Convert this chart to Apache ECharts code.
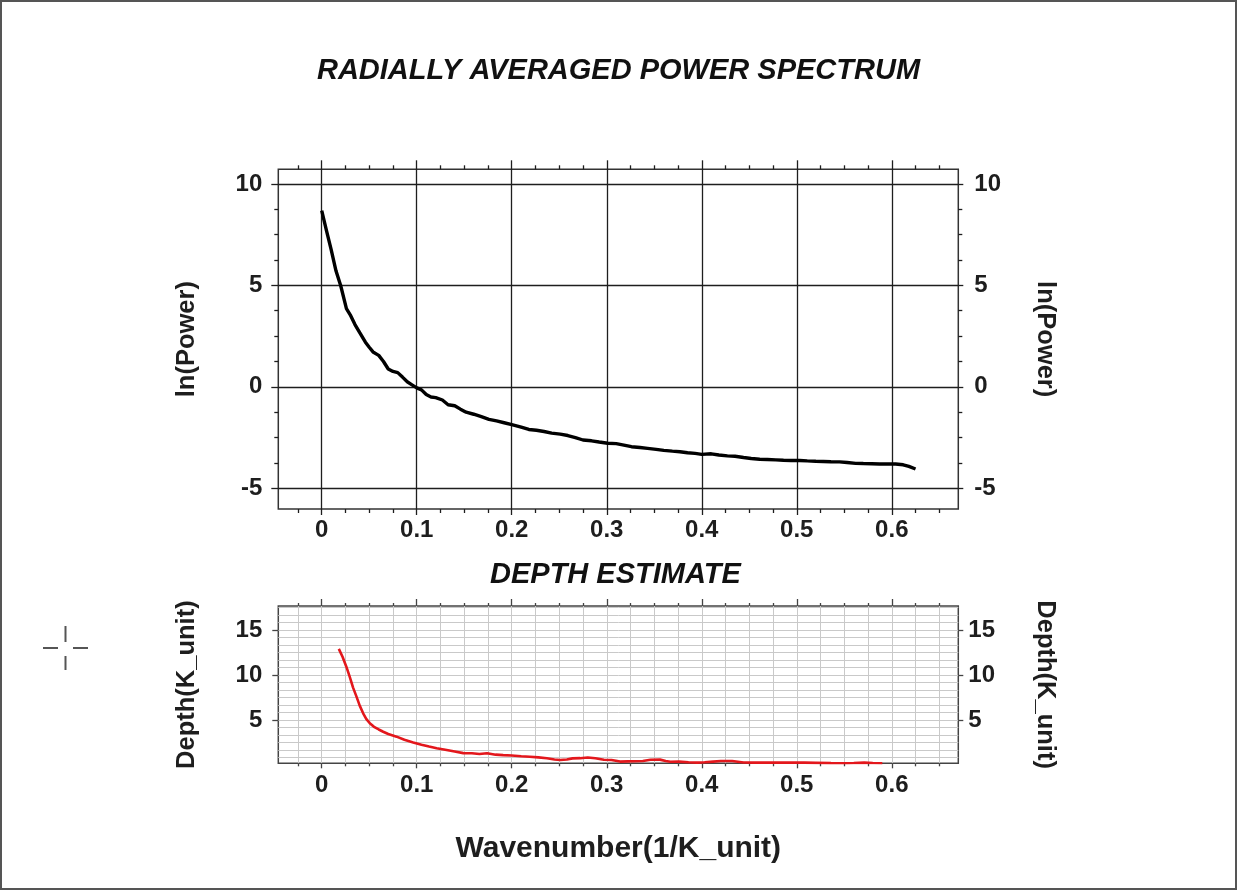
<!DOCTYPE html>
<html>
<head>
<meta charset="utf-8">
<script src="https://cdn.jsdelivr.net/npm/echarts@6/dist/echarts.min.js"></script>
<style>
html,body{margin:0;padding:0;background:#fff;}
#chart{width:1237px;height:890px;}
</style>
</head>
<body>
<div id="chart"></div>
<script>
// ---- Data ----
const powerWavenumber = [0, 0.005, 0.01, 0.015, 0.02, 0.026, 0.03, 0.035, 0.04, 0.046, 0.05, 0.054, 0.06, 0.065, 0.07, 0.075, 0.08, 0.085, 0.09, 0.095, 0.1, 0.105, 0.11, 0.115, 0.12, 0.127, 0.133, 0.14, 0.146, 0.152, 0.16, 0.168, 0.176, 0.184, 0.192, 0.2, 0.209, 0.218, 0.226, 0.234, 0.242, 0.251, 0.259, 0.267, 0.275, 0.284, 0.292, 0.301, 0.31, 0.318, 0.326, 0.335, 0.343, 0.352, 0.36, 0.369, 0.377, 0.385, 0.393, 0.4, 0.41, 0.418, 0.427, 0.435, 0.444, 0.452, 0.461, 0.469, 0.478, 0.486, 0.494, 0.503, 0.511, 0.52, 0.528, 0.536, 0.545, 0.553, 0.562, 0.57, 0.579, 0.587, 0.596, 0.604, 0.612, 0.618, 0.625];
const lnPower = [8.68, 7.7, 6.75, 5.72, 4.98, 3.85, 3.55, 3.07, 2.67, 2.2, 1.95, 1.72, 1.55, 1.25, 0.88, 0.76, 0.7, 0.48, 0.25, 0.1, -0.05, -0.15, -0.38, -0.5, -0.53, -0.65, -0.88, -0.93, -1.1, -1.25, -1.35, -1.47, -1.6, -1.68, -1.77, -1.86, -1.97, -2.1, -2.14, -2.2, -2.28, -2.33, -2.4, -2.5, -2.62, -2.66, -2.72, -2.78, -2.8, -2.87, -2.95, -2.99, -3.03, -3.08, -3.13, -3.17, -3.2, -3.25, -3.28, -3.33, -3.3, -3.36, -3.4, -3.42, -3.48, -3.53, -3.57, -3.58, -3.6, -3.62, -3.63, -3.63, -3.65, -3.67, -3.68, -3.69, -3.7, -3.73, -3.77, -3.78, -3.79, -3.8, -3.8, -3.8, -3.84, -3.92, -4.05];

const depthWavenumber = [0.018, 0.022, 0.026, 0.0295, 0.033, 0.0366, 0.04, 0.0436, 0.047, 0.0506, 0.055, 0.06, 0.0647, 0.07, 0.0788, 0.087, 0.0963, 0.105, 0.113, 0.121, 0.13, 0.14, 0.149, 0.158, 0.166, 0.174, 0.183, 0.191, 0.2, 0.21, 0.219, 0.228, 0.237, 0.245, 0.251, 0.258, 0.264, 0.272, 0.28, 0.288, 0.297, 0.305, 0.314, 0.322, 0.33, 0.338, 0.346, 0.356, 0.362, 0.367, 0.376, 0.386, 0.395, 0.403, 0.412, 0.42, 0.432, 0.444, 0.455, 0.468, 0.48, 0.49, 0.508, 0.52, 0.536, 0.545, 0.553, 0.56, 0.571, 0.58, 0.59];
const depth = [12.9, 12.0, 10.9, 9.8, 8.6, 7.6, 6.6, 5.75, 5.1, 4.65, 4.25, 3.95, 3.7, 3.45, 3.15, 2.8, 2.5, 2.25, 2.05, 1.87, 1.7, 1.5, 1.32, 1.3, 1.22, 1.3, 1.15, 1.1, 1.05, 0.98, 0.92, 0.85, 0.75, 0.62, 0.56, 0.62, 0.74, 0.76, 0.84, 0.75, 0.58, 0.55, 0.38, 0.4, 0.42, 0.45, 0.58, 0.6, 0.45, 0.37, 0.38, 0.3, 0.26, 0.3, 0.38, 0.44, 0.44, 0.28, 0.27, 0.26, 0.27, 0.26, 0.26, 0.24, 0.21, 0.2, 0.2, 0.22, 0.26, 0.22, 0.2];

// ---- Tick labels ----
const xMajorTicks = [0, 0.1, 0.2, 0.3, 0.4, 0.5, 0.6];
const powerTicks = [-5, 0, 5, 10];
const depthTicks = [5, 10, 15];

// ---- Axis ranges ----
const xMin = -0.0457, xMax = 0.67;
const powerMin = -6.02, powerMax = 10.72;
const depthMin = 0.19, depthMax = 17.67;

// minor tick positions
const xMinorTicks = [];
const xAllTicks = [];
for (let k = -1; k <= 26; k++) {
  const v = Math.round(k * 25) / 1000;
  xAllTicks.push(v);
  if (k % 4 !== 0) xMinorTicks.push(v);
}
const powerMinorTicks = [];
for (let k = -4; k <= 8; k++) {
  const v = k * 1.25;
  if (k % 4 !== 0 && v > powerMin && v < powerMax) powerMinorTicks.push(v);
}
const depthGridValues = [];
for (let k = 1; k <= 21; k++) depthGridValues.push(k * 5 / 6);

const FONT = 'Liberation Sans, Arial, sans-serif';
const DARK = '#1e1e1e';
const labelStyle = {fontSize: 24, fontWeight: 'bold', color: DARK, fontFamily: FONT};
const nameStyle = {fontSize: 25.5, fontWeight: 'bold', color: DARK, fontFamily: FONT};

function axis(dim, grid, pos, o) {
  const min = dim === 'x' ? xMin : (grid === 0 ? powerMin : depthMin);
  const max = dim === 'x' ? xMax : (grid === 0 ? powerMax : depthMax);
  const a = {
    type: 'value', gridIndex: grid, position: pos, min: min, max: max,
    axisLine: {show: false, onZero: false},
    axisTick: {show: !!o.ticks, customValues: o.ticks || [0], length: o.len || 4,
      lineStyle: {color: o.tickColor || DARK, width: o.tickWidth || 1.3}},
    axisLabel: {show: !!o.labels, customValues: o.labels || [0], margin: o.margin || 10},
    splitLine: {show: !!o.split, lineStyle: {color: o.split || DARK, width: o.splitWidth || 1.3}},
    minorTick: {show: false}, minorSplitLine: {show: false}
  };
  if (o.labels) Object.assign(a.axisLabel, labelStyle);
  if (o.split && !o.ticks) a.axisTick = {show: false, customValues: o.splitValues};
  if (o.name) {
    a.name = o.name; a.nameLocation = 'middle'; a.nameGap = o.nameGap;
    a.nameTextStyle = o.nameStyle || nameStyle;
    if (o.nameRotate !== undefined) a.nameRotate = o.nameRotate;
  }
  return a;
}

const xAxes = [
  // grid 0 (power)
  axis('x', 0, 'bottom', {ticks: xMajorTicks, labels: xMajorTicks, len: 6, split: DARK, margin: 9}),
  axis('x', 0, 'bottom', {ticks: xMinorTicks, len: 4}),
  axis('x', 0, 'top', {ticks: xMajorTicks, len: 9}),
  axis('x', 0, 'top', {ticks: xMinorTicks, len: 4}),
  // grid 1 (depth)
  axis('x', 1, 'bottom', {split: '#c9c9c9', splitWidth: 1, splitValues: xAllTicks}),
  axis('x', 1, 'bottom', {ticks: xMajorTicks, labels: xMajorTicks, len: 5, margin: 10, tickColor: '#444',
    name: 'Wavenumber(1/K_unit)', nameGap: 70,
    nameStyle: {fontSize: 30, fontWeight: 'bold', color: DARK, fontFamily: FONT}}),
  axis('x', 1, 'bottom', {ticks: xMinorTicks, len: 3, tickColor: '#444'}),
  axis('x', 1, 'top', {ticks: xMajorTicks, len: 7, tickColor: '#444'}),
  axis('x', 1, 'top', {ticks: xMinorTicks, len: 3, tickColor: '#444'})
];

const yAxes = [
  axis('y', 0, 'left', {ticks: powerTicks, labels: powerTicks, len: 7, split: DARK, margin: 16,
    name: 'ln(Power)', nameGap: 78}),
  axis('y', 0, 'left', {ticks: powerMinorTicks, len: 4}),
  axis('y', 0, 'right', {ticks: powerTicks, labels: powerTicks, len: 5, margin: 16,
    name: 'ln(Power)', nameGap: 74, nameRotate: -90}),
  axis('y', 0, 'right', {ticks: powerMinorTicks, len: 4}),
  axis('y', 1, 'left', {split: '#c9c9c9', splitWidth: 1, splitValues: depthGridValues}),
  axis('y', 1, 'left', {ticks: depthTicks, labels: depthTicks, len: 6, margin: 16, tickColor: '#444',
    name: 'Depth(K_unit)', nameGap: 78}),
  axis('y', 1, 'right', {ticks: depthTicks, labels: depthTicks, len: 5, margin: 10, tickColor: '#444',
    name: 'Depth(K_unit)', nameGap: 74, nameRotate: -90})
];

const titleStyle = {fontSize: 29, fontWeight: 'bold', fontStyle: 'italic', color: '#111', fontFamily: FONT};

const option = {
  animation: false,
  backgroundColor: '#fff',
  title: [
    {text: 'RADIALLY AVERAGED POWER SPECTRUM', left: 'center', top: 51, textStyle: titleStyle},
    {text: 'DEPTH ESTIMATE', left: 485, top: 555, textStyle: titleStyle}
  ],
  grid: [
    {left: 278.3, top: 169.3, width: 680, height: 339.7, show: true, borderColor: '#333', borderWidth: 1.5,
      backgroundColor: 'transparent', containLabel: false, outerBoundsMode: 'none'},
    {left: 278.3, top: 606, width: 680, height: 157.3, show: true, borderColor: '#444', borderWidth: 1.5,
      backgroundColor: 'transparent', containLabel: false, outerBoundsMode: 'none'}
  ],
  xAxis: xAxes,
  yAxis: yAxes,
  series: [
    {type: 'line', name: 'ln(Power)', xAxisIndex: 0, yAxisIndex: 0, showSymbol: false, z: 5,
      data: powerWavenumber.map((x, i) => [x, lnPower[i]]),
      lineStyle: {color: '#000', width: 3.4}, clip: true},
    {type: 'line', name: 'Depth', xAxisIndex: 4, yAxisIndex: 4, showSymbol: false, z: 5,
      data: depthWavenumber.map((x, i) => [x, depth[i]]),
      lineStyle: {color: '#e3171c', width: 2.6}, clip: true}
  ],
  graphic: [
    {type: 'rect', shape: {x: 1, y: 1, width: 1235, height: 888}, style: {fill: 'none', stroke: '#555', lineWidth: 2}, silent: true},
    {type: 'line', shape: {x1: 43, y1: 648, x2: 58, y2: 648}, style: {stroke: '#555', lineWidth: 2}},
    {type: 'line', shape: {x1: 73, y1: 648, x2: 88, y2: 648}, style: {stroke: '#555', lineWidth: 2}},
    {type: 'line', shape: {x1: 65.5, y1: 626, x2: 65.5, y2: 642}, style: {stroke: '#555', lineWidth: 2}},
    {type: 'line', shape: {x1: 65.5, y1: 656, x2: 65.5, y2: 670}, style: {stroke: '#555', lineWidth: 2}}
  ]
};

const chart = echarts.init(document.getElementById('chart'), null, {renderer: 'canvas'});
chart.setOption(option);
</script>
</body>
</html>
